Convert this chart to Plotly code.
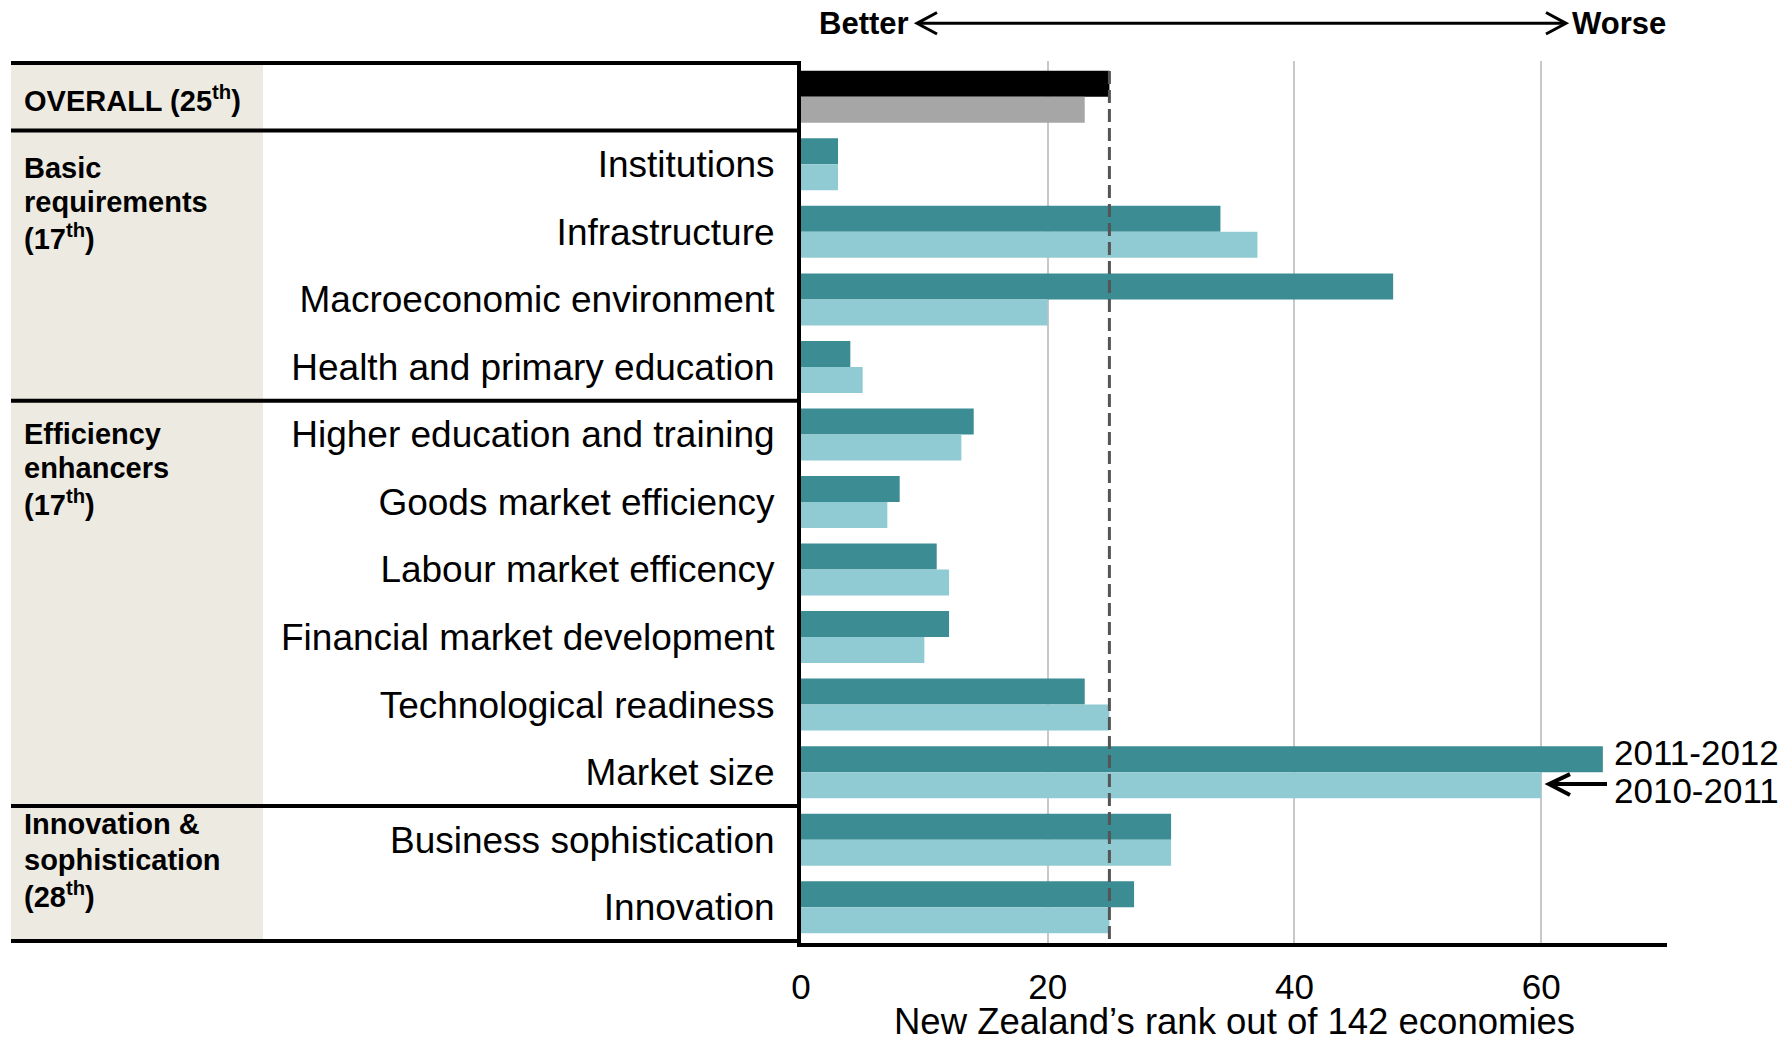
import plotly.graph_objects as go

categories = ["OVERALL", "Institutions", "Infrastructure", "Macroeconomic environment",
              "Health and primary education", "Higher education and training",
              "Goods market efficiency", "Labour market efficency",
              "Financial market development", "Technological readiness",
              "Market size", "Business sophistication", "Innovation"]
tick_labels = ["Institutions", "Infrastructure", "Macroeconomic environment",
               "Health and primary education", "Higher education and training",
               "Goods market efficiency", "Labour market efficency",
               "Financial market development", "Technological readiness",
               "Market size", "Business sophistication", "Innovation"]
rank_2011_2012 = [25, 3, 34, 48, 4, 14, 8, 11, 12, 23, 65, 30, 27]
rank_2010_2011 = [23, 3, 37, 20, 5, 13, 7, 12, 10, 25, 60, 30, 25]
overall_rank = 25
x_ticks = [0, 20, 40, 60]
x_title = "New Zealand’s rank out of 142 economies"
group_labels = [
    ["OVERALL (25<sup>th</sup>)"],
    ["Basic", "requirements", "(17<sup>th</sup>)"],
    ["Efficiency", "enhancers", "(17<sup>th</sup>)"],
    ["Innovation &", "sophistication", "(28<sup>th</sup>)"],
]

W, H = 1790, 1043
L, R, T, B = 801, 1667, 60.5, 943
PW, PH = R - L, B - T

def px(x):
    return (x - L) / PW

def py(y):
    return (B - y) / PH

DARK = "#3B8C93"
LIGHT = "#90CBD3"
FONT = "Arial, Liberation Sans, sans-serif"

c1 = ["#000000"] + [DARK] * (len(categories) - 1)
c2 = ["#A6A6A6"] + [LIGHT] * (len(categories) - 1)

fig = go.Figure()
fig.add_trace(go.Bar(y=categories, x=rank_2011_2012, orientation="h", name="2011-2012",
                     marker=dict(color=c1, line=dict(width=0))))
fig.add_trace(go.Bar(y=categories, x=rank_2010_2011, orientation="h", name="2010-2011",
                     marker=dict(color=c2, line=dict(width=0))))

shapes = []
# beige column
shapes.append(dict(type="rect", xref="paper", yref="paper", x0=px(11), x1=px(263),
                   y0=py(941), y1=py(60.5), fillcolor="#EDEBE1", line=dict(width=0), layer="below"))
# table lines
for yv, x1 in [(-0.5, px(801)), (0.5, px(797)), (4.5, px(797)), (10.5, px(797))]:
    shapes.append(dict(type="line", xref="paper", yref="y", x0=px(11), x1=x1, y0=yv, y1=yv,
                       line=dict(color="black", width=4)))
shapes.append(dict(type="line", xref="paper", yref="y", x0=px(11), x1=0, y0=12.5, y1=12.5,
                   line=dict(color="black", width=4)))
# dashed overall line
shapes.append(dict(type="line", xref="x", yref="y", x0=overall_rank, x1=overall_rank,
                   y0=-0.38, y1=12.5, line=dict(color="#555555", width=3, dash="13px,6px")))
# Better/Worse arrow
ya = py(22.8)
shapes.append(dict(type="line", xref="paper", yref="paper", x0=px(918), x1=px(1564), y0=ya, y1=ya,
                   line=dict(color="black", width=3)))
shapes.append(dict(type="path", xref="paper", yref="paper",
                   path=f"M {px(937)} {py(12)} L {px(917)} {ya} L {px(937)} {py(33.5)}",
                   line=dict(color="black", width=3)))
shapes.append(dict(type="path", xref="paper", yref="paper",
                   path=f"M {px(1546)} {py(12)} L {px(1566)} {ya} L {px(1546)} {py(33.5)}",
                   line=dict(color="black", width=3)))
# Market size arrow
ym = py(784)
shapes.append(dict(type="line", xref="paper", yref="paper", x0=px(1550), x1=px(1607), y0=ym, y1=ym,
                   line=dict(color="black", width=4)))
shapes.append(dict(type="path", xref="paper", yref="paper",
                   path=f"M {px(1570)} {py(774)} L {px(1549)} {ym} L {px(1570)} {py(795)}",
                   line=dict(color="black", width=4)))

annotations = []
annotations.append(dict(xref="paper", yref="paper", x=px(911), y=ya, text="<b>Better</b>",
                        showarrow=False, xanchor="right", yanchor="middle",
                        font=dict(size=31, color="black", family=FONT)))
annotations.append(dict(xref="paper", yref="paper", x=px(1570), y=ya, text="<b>Worse</b>",
                        showarrow=False, xanchor="left", yanchor="middle",
                        font=dict(size=31, color="black", family=FONT)))
annotations.append(dict(xref="paper", yref="paper", x=px(1612), y=py(752), text="2011-2012",
                        showarrow=False, xanchor="left", yanchor="middle",
                        font=dict(size=35, color="black", family=FONT)))
annotations.append(dict(xref="paper", yref="paper", x=px(1612), y=py(790), text="2010-2011",
                        showarrow=False, xanchor="left", yanchor="middle",
                        font=dict(size=35, color="black", family=FONT)))
annotations.append(dict(xref="paper", yref="paper", x=0.5, y=py(1022), text=x_title,
                        showarrow=False, xanchor="center", yanchor="middle",
                        font=dict(size=36.5, color="black", family=FONT)))
group_y = [[99], [168, 202, 237], [434, 468, 503], [824, 860, 895]]
for lines, ys in zip(group_labels, group_y):
    for t, yy in zip(lines, ys):
        annotations.append(dict(xref="paper", yref="paper", x=px(22), y=py(yy), text=f"<b>{t}</b>",
                                showarrow=False, xanchor="left", yanchor="middle",
                                font=dict(size=29, color="black", family=FONT)))

fig.update_layout(
    width=W, height=H,
    margin=dict(l=L, r=W - R, t=T, b=H - B, pad=0),
    paper_bgcolor="white", plot_bgcolor="white",
    barmode="group", bargap=0.23, bargroupgap=0,
    showlegend=False,
    font=dict(family=FONT, color="black"),
    shapes=shapes, annotations=annotations,
    xaxis=dict(range=[0, 70.2], tickvals=x_ticks, ticktext=[str(v) for v in x_ticks],
               showgrid=True, gridcolor="#C8C8C8", gridwidth=2, zeroline=False,
               showline=True, linecolor="black", linewidth=4, automargin=False,
               ticks="", ticklabelstandoff=10, tickfont=dict(size=35, family=FONT, color="black")),
    yaxis=dict(categoryorder="array", categoryarray=categories, autorange="reversed",
               tickvals=categories[1:], ticktext=tick_labels, showgrid=False, zeroline=False,
               showline=True, linecolor="black", linewidth=4, ticks="", automargin=False,
               ticklabelstandoff=15, tickfont=dict(size=37, family=FONT, color="black")),
)

fig.write_html("out.html")
